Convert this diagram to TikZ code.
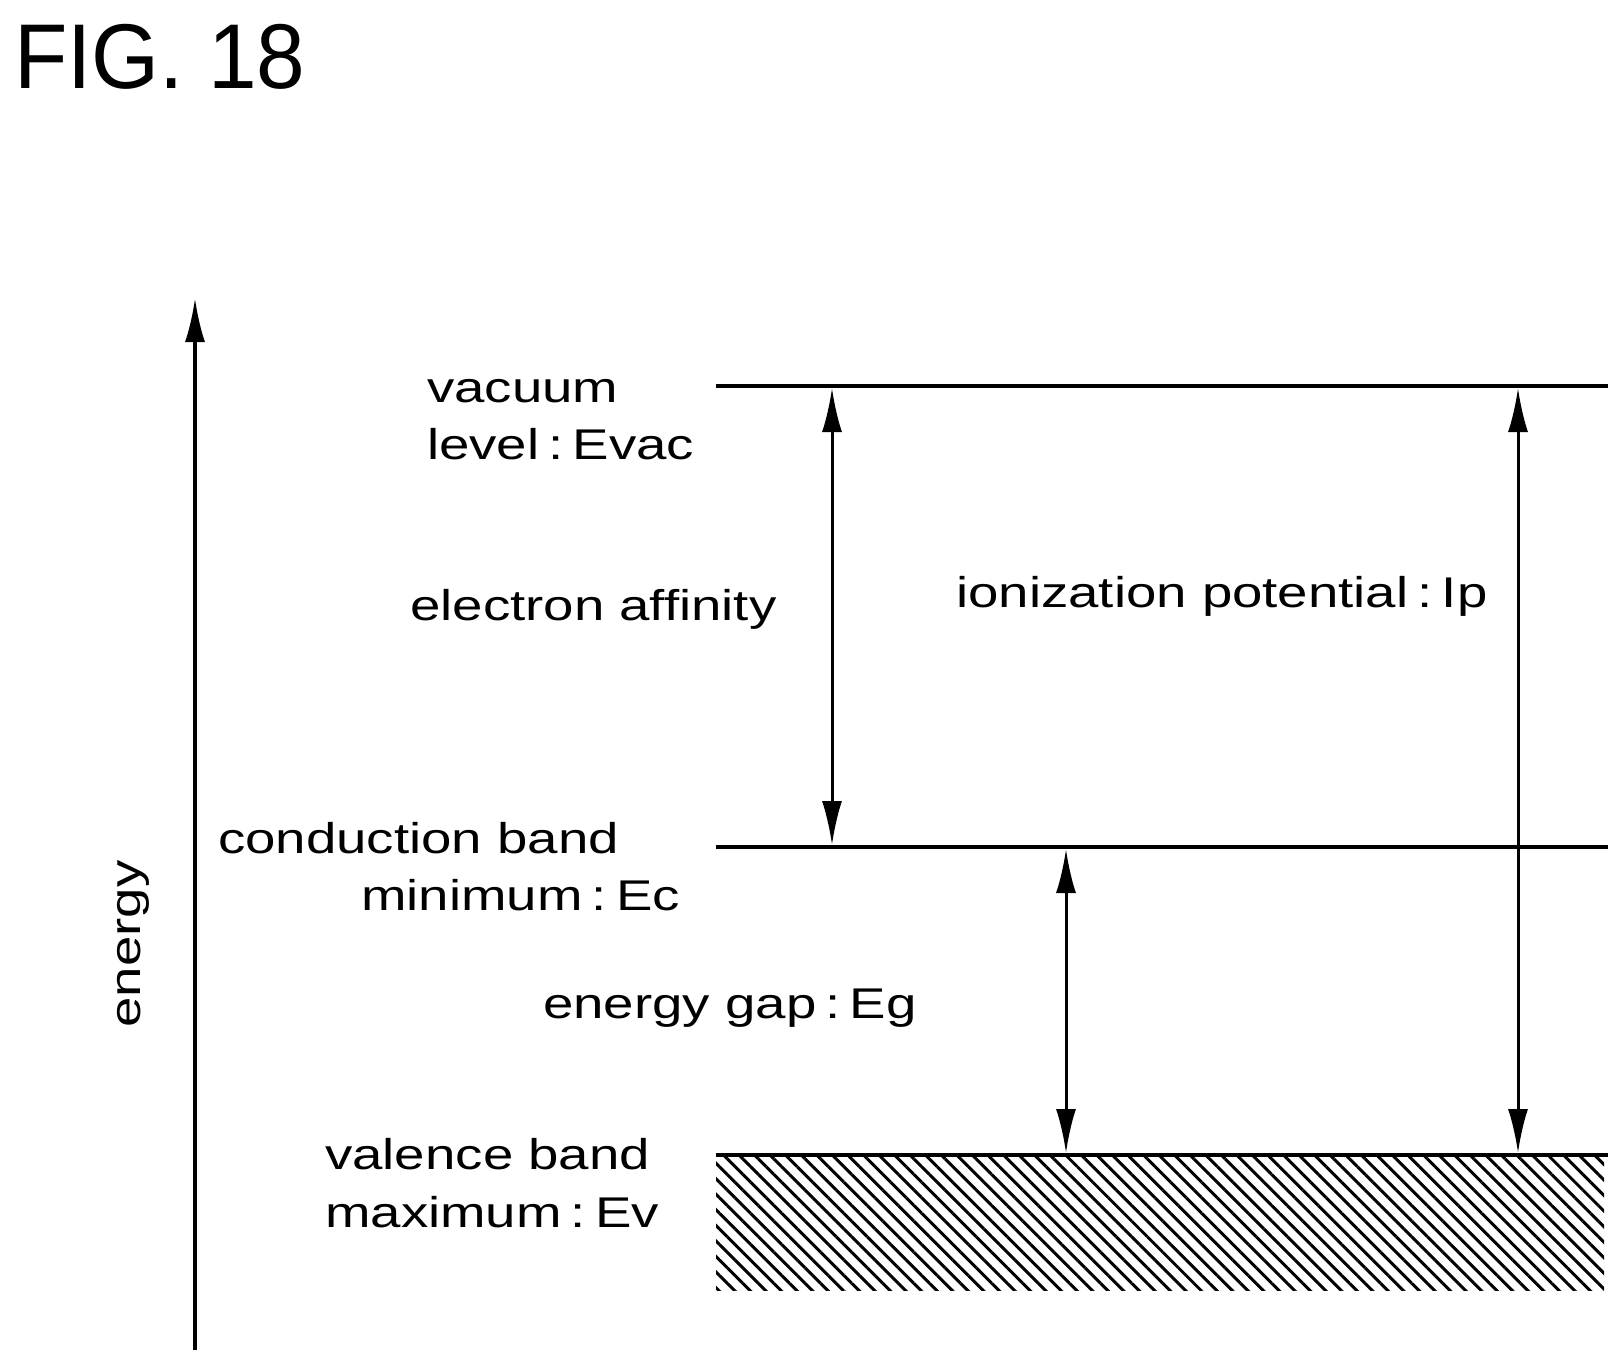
\documentclass[tikz,border=0pt]{standalone}
\usepackage{fontspec}
\setmainfont{Liberation Sans}
\usetikzlibrary{arrows.meta,patterns.meta}
\newcommand{\wide}[1]{\scalebox{1.27}[1]{#1}}
\tikzset{lbl/.style={font=\fontsize{43}{50}\selectfont, inner sep=0pt},
  level/.style={line width=4pt},
  gap/.style={line width=3pt, {Latex[length=44pt,width=20pt]}-{Latex[length=44pt,width=20pt]}}}
\begin{document}
\begin{tikzpicture}[x=1pt,y=-1pt]
\useasboundingbox (0,0) rectangle (1623,1365);
\node[font=\fontsize{92}{100}\selectfont, inner sep=0pt, anchor=base west] (fig) at (14,88) {\scalebox{0.95}[1]{FIG. 18}};
% axis
\coordinate (a0) at (195,1350);
\coordinate (a1) at (195,298);
\draw[line width=3.5pt, -{Latex[length=44pt,width=20pt]}] (a0) -- (a1);
\node[lbl, rotate=90] (en) at (133,944) {\wide{energy}};
% levels
\coordinate (vl) at (716,386); \coordinate (vr) at (1608,386);
\coordinate (cl) at (716,847); \coordinate (cr) at (1608,847);
\coordinate (bl) at (716,1155); \coordinate (br) at (1608,1155);
\fill[pattern={Lines[angle=-45,distance=11pt,line width=3pt]}, pattern color=black] (716,1155) rectangle (1604,1290);
\draw[level] (vl) -- (vr);
\draw[level] (cl) -- (cr);
\draw[level] (bl) -- (br);
% arrows
\coordinate (ea0) at (832,388); \coordinate (ea1) at (832,845);
\coordinate (eg0) at (1066,849); \coordinate (eg1) at (1066,1153);
\coordinate (ip0) at (1518,388); \coordinate (ip1) at (1518,1153);
\draw[gap] (ea0) -- (ea1);
\draw[gap] (eg0) -- (eg1);
\draw[gap] (ip0) -- (ip1);
% labels
\node[lbl, anchor=base west] (vac1) at (427,402) {\wide{vacuum}};
\node[lbl, anchor=base west] (vac2) at (427,459) {\wide{level\,:\,Evac}};
\node[lbl, anchor=base west] (ea) at (410,620) {\wide{electron affinity}};
\node[lbl, anchor=base west] (ip) at (956,607) {\wide{ionization potential\,:\,Ip}};
\node[lbl, anchor=base west] (cb1) at (218,853) {\wide{conduction band}};
\node[lbl, anchor=base east] (cb2) at (680,910) {\wide{minimum\,:\,Ec}};
\node[lbl, anchor=base west] (eg) at (543,1018) {\wide{energy gap\,:\,Eg}};
\node[lbl, anchor=base west] (vb1) at (325,1169) {\wide{valence band}};
\node[lbl, anchor=base west] (vb2) at (325,1227) {\wide{maximum\,:\,Ev}};
\end{tikzpicture}
\end{document}
